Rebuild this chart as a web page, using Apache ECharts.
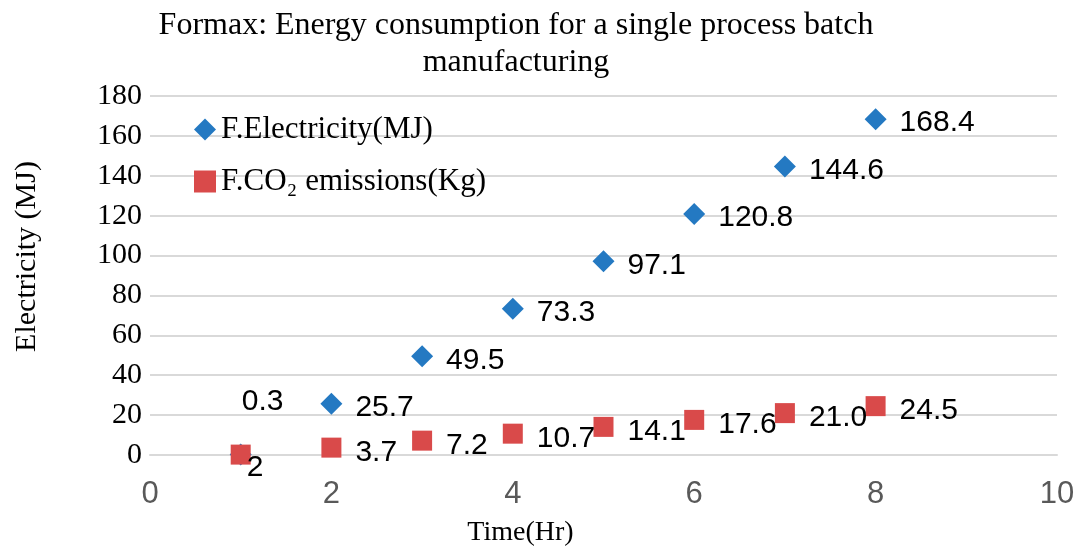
<!DOCTYPE html>
<html>
<head>
<meta charset="utf-8">
<script src="https://cdn.jsdelivr.net/npm/echarts@6/dist/echarts.min.js"></script>
<style>html,body{margin:0;padding:0;background:#fff}#c{width:1077px;height:549px}</style>
</head>
<body>
<div id="c"></div>
<script>
const timeHr = [1, 2, 3, 4, 5, 6, 7, 8];
const electricityMJ = [0.3, 25.7, 49.5, 73.3, 97.1, 120.8, 144.6, 168.4];
const co2Kg = [0.2, 3.7, 7.2, 10.7, 14.1, 17.6, 21.0, 24.5];
const co2Labels = ['2', '3.7', '7.2', '10.7', '14.1', '17.6', '21.0', '24.5'];
const elecLabels = ['0.3', '25.7', '49.5', '73.3', '97.1', '120.8', '144.6', '168.4'];
const seriesNames = ['F.Electricity(MJ)', 'F.CO\u2082 emissions(Kg)'];
const titleText = 'Formax: Energy consumption for a single process batch\nmanufacturing';

const serif = "'Liberation Serif', 'Times New Roman', serif";
const sans = "'Liberation Sans', Arial, sans-serif";

const elecData = timeHr.map((t, i) => {
  const d = { value: [t, electricityMJ[i]], label: { formatter: elecLabels[i] } };
  if (i === 0) d.label = { formatter: elecLabels[i], position: 'top', distance: 27, offset: [22, 0] };
  return d;
});
const co2Data = timeHr.map((t, i) => {
  const d = { value: [t, co2Kg[i]], label: { formatter: co2Labels[i] } };
  if (i === 0) d.label = { formatter: co2Labels[i], position: 'right', distance: -4, offset: [0, 13] };
  return d;
});

const chart = echarts.init(document.getElementById('c'), null, { renderer: 'canvas' });
chart.setOption({
  animation: false,
  backgroundColor: '#ffffff',
  graphic: [{
    type: 'text', x: 516, y: 7, z: 10,
    style: { text: titleText, font: "32px " + serif, fill: '#000', textAlign: 'center', lineHeight: 37 }
  }],
  grid: { left: 150, right: 20, top: 96, bottom: 94, outerBoundsMode: 'none', containLabel: false },
  legend: {
    orient: 'vertical', left: 189, top: 109, itemGap: 21, itemWidth: 22, itemHeight: 22,
    textStyle: { fontFamily: serif, fontSize: 31, color: '#000' },
    data: [{ name: seriesNames[0], icon: 'diamond' }, { name: seriesNames[1], icon: 'rect' }]
  },
  xAxis: {
    type: 'value', min: 0, max: 10, interval: 2,
    name: 'Time(Hr)', nameLocation: 'middle', nameGap: 64,
    nameTextStyle: { fontFamily: serif, fontSize: 28, color: '#000', padding: [0, 166, 0, 0] },
    axisLine: { show: true, lineStyle: { color: '#d9d9d9', width: 2 } },
    axisTick: { show: false },
    splitLine: { show: false },
    axisLabel: { fontFamily: "'Liberation Sans Narrow', 'Arial Narrow', " + sans, fontSize: 31, color: '#595959', margin: 24 }
  },
  yAxis: {
    type: 'value', min: 0, max: 180, interval: 20,
    name: 'Electricity (MJ)', nameLocation: 'middle', nameGap: 108,
    nameTextStyle: { fontFamily: serif, fontSize: 30, color: '#000', padding: [0, 0, 0, 38] },
    axisLine: { show: false }, axisTick: { show: false },
    splitLine: { show: true, lineStyle: { color: '#d9d9d9', width: 2 } },
    axisLabel: { fontFamily: serif, fontSize: 30, color: '#000', margin: 8 }
  },
  series: [{
    name: seriesNames[0], type: 'scatter', symbol: 'diamond', symbolSize: 22,
    itemStyle: { color: '#2479c2', opacity: 1 },
    label: { show: true, position: 'right', distance: 13, offset: [0, 4], fontFamily: sans, fontSize: 30, color: '#000' },
    data: elecData, z: 2
  }, {
    name: seriesNames[1], type: 'scatter', symbol: 'rect', symbolSize: 20,
    itemStyle: { color: '#d94a4a', opacity: 1 },
    label: { show: true, position: 'right', distance: 14, offset: [0, 5], fontFamily: sans, fontSize: 30, color: '#000' },
    data: co2Data, z: 3
  }]
});
</script>
</body>
</html>
